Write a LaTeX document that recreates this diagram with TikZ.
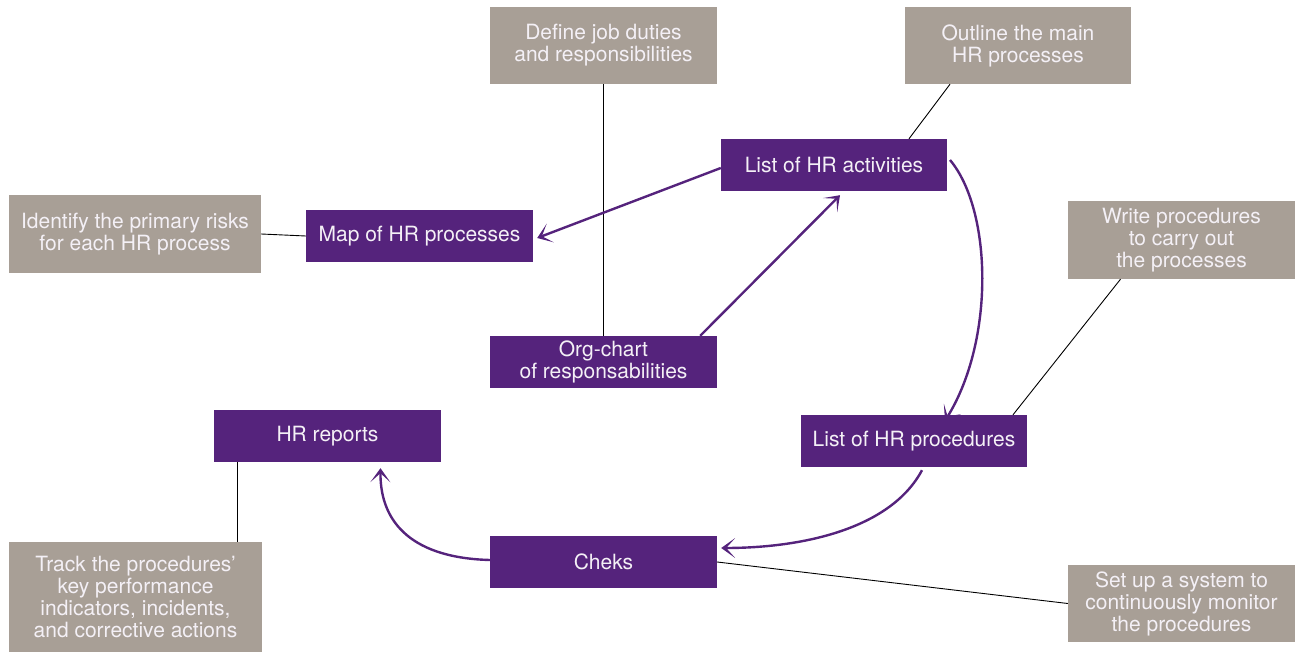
\documentclass[tikz,border=0pt]{standalone}
\usepackage{fontspec}
\setmainfont{TeX Gyre Heros}
\usetikzlibrary{arrows.meta}
\definecolor{hrpurple}{HTML}{55237C}
\definecolor{hrgray}{HTML}{A89F96}
\definecolor{hrtext}{HTML}{F4F0F6}
\tikzset{
  base/.style={inner sep=0pt, text=hrtext, align=center, font=\fontsize{21}{22}\selectfont},
  pbox/.style={base, fill=hrpurple, minimum width=227pt, minimum height=52pt},
  gbox/.style={base, fill=hrgray, minimum width=227pt, minimum height=77pt},
  link/.style={draw=black, line width=0.9pt},
  flow/.style={draw=hrpurple, line width=2.4pt, -{Stealth[length=14pt,width=20pt,inset=9pt]}},
}
\begin{document}
\begin{tikzpicture}[x=1pt,y=-1pt]
\useasboundingbox (0,0) rectangle (1302,652);
\node[gbox] (def) at (603.5,45.5) {Define job duties\\and responsibilities};
\node[gbox, minimum width=226pt] (out) at (1018,45.5) {Outline the main\\HR processes};
\node[pbox, minimum width=226pt] (act) at (834,165) {List of HR activities};
\node[gbox, minimum width=252pt, minimum height=78pt] (risk) at (135,234) {Identify the primary risks\\for each HR process};
\node[pbox] (map) at (419.5,236) {Map of HR processes};
\node[gbox, minimum height=78pt] (write) at (1181.5,240) {Write procedures\\to carry out\\the processes};
\node[pbox] (org) at (603.5,362) {Org-chart\\of responsabilities};
\node[pbox] (rep) at (327.5,436) {HR reports};
\node[pbox, minimum width=226pt] (proc) at (914,441) {List of HR procedures};
\node[pbox] (chk) at (603.5,562) {Cheks};
\node[gbox, minimum width=253pt, minimum height=110pt] (track) at (135.5,597) {Track the procedures'\\key performance\\indicators, incidents,\\and corrective actions};
\node[gbox] (mon) at (1181.5,603.5) {Set up a system to\\continuously monitor\\the procedures};
% thin links
\draw[link] (def.south) -- (org.north);
\draw[link] ([xshift=-68pt]out.south) -- ([xshift=75pt]act.north);
\draw[link] (risk.east) -- (map.west);
\draw[link] ([xshift=-61pt]write.south) -- ([xshift=99pt]proc.north);
\draw[link] ([xshift=-90pt]rep.south) -- ([xshift=102pt]track.north);
\draw[link] (chk.east) -- (mon.west);
% purple flows
\draw[flow] ([yshift=-3pt]act.west) -- ([shift={(4pt,-2pt)}]map.east);
\draw[flow] ([xshift=-17pt]org.north east) -- ([shift={(6pt,-4pt)}]act.south);
\draw[flow] (950,160) .. controls (992,210) and (995,340) .. ([shift={(31pt,-6pt)}]proc.north);
\draw[flow] ([shift={(8pt,-3pt)}]proc.south) .. controls (890,530) and (800,548) .. ([shift={(4pt,14pt)}]chk.east);
\draw[flow] ([yshift=2pt]chk.west) .. controls (415,558) and (380,525) .. ([shift={(53pt,-6pt)}]rep.south);
\end{tikzpicture}
\end{document}
